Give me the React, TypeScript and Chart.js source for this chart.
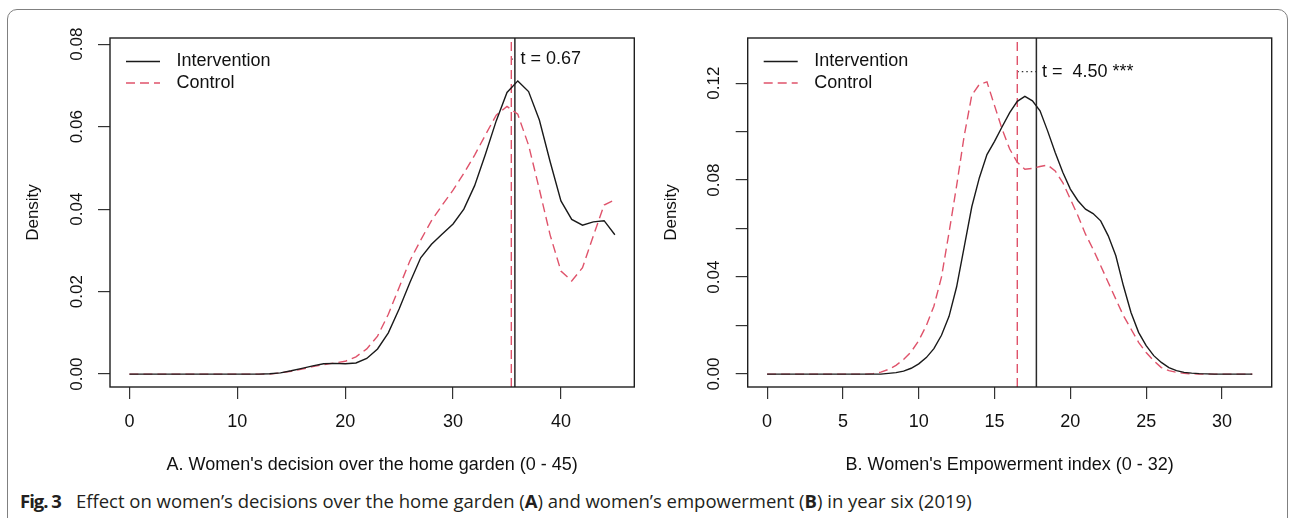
import React, { useEffect, useRef } from 'react';
import { Chart, registerables } from 'chart.js';

Chart.register(...registerables);

const FONT = '"Liberation Sans", Arial, Helvetica, sans-serif';
const RED = '#DF536B';

// ---------- Panel A: Women's decision over the home garden ----------
const aX = [0, 1, 2, 3, 4, 5, 6, 7, 8, 9, 10, 11, 12, 13, 14, 15, 16, 17, 18, 19, 20, 21, 22, 23, 24, 25, 26, 27, 28, 29, 30, 31, 32, 33, 34, 35, 36, 37, 38, 39, 40, 41, 42, 43, 44, 45];
const aIntervention = [0, 0, 0, 0, 0, 0, 0, 0, 0, 0, 0, 0, 0, 0.0001, 0.0003, 0.0008, 0.0014, 0.002, 0.0025, 0.0026, 0.0025, 0.0027, 0.0038, 0.0061, 0.01, 0.0158, 0.0222, 0.0282, 0.0315, 0.034, 0.0364, 0.04, 0.0457, 0.0533, 0.0614, 0.0683, 0.0711, 0.0685, 0.0616, 0.0515, 0.042, 0.0375, 0.0361, 0.0369, 0.0372, 0.0338];
const aControl = [0, 0, 0, 0, 0, 0, 0, 0, 0, 0, 0, 0, 0, 0, 0.0003, 0.0007, 0.0012, 0.0018, 0.0023, 0.0027, 0.0031, 0.0042, 0.0061, 0.0092, 0.0145, 0.021, 0.0275, 0.0325, 0.0372, 0.041, 0.0446, 0.0487, 0.0531, 0.058, 0.0628, 0.0649, 0.063, 0.0555, 0.0448, 0.0337, 0.025, 0.0226, 0.0258, 0.0335, 0.041, 0.0423];
const aXTicks = [0, 10, 20, 30, 40];
const aYTicks = [0, 0.02, 0.04, 0.06, 0.08];
const aYLabels = [0, 0.02, 0.04, 0.06, 0.08];
const aMeanIntervention = 35.73;
const aMeanControl = 35.4;
const aTLabel = 't = 0.67';
const aTY = 0.0764;
const aXTitle = "A. Women's decision over the home garden (0 - 45)";

// ---------- Panel B: Women's Empowerment index ----------
const bX = [0, 0.5, 1, 1.5, 2, 2.5, 3, 3.5, 4, 4.5, 5, 5.5, 6, 6.5, 7, 7.5, 8, 8.5, 9, 9.5, 10, 10.5, 11, 11.5, 12, 12.5, 13, 13.5, 14, 14.5, 15, 15.5, 16, 16.5, 17, 17.5, 18, 18.5, 19, 19.5, 20, 20.5, 21, 21.5, 22, 22.5, 23, 23.5, 24, 24.5, 25, 25.5, 26, 26.5, 27, 27.5, 28, 28.5, 29, 29.5, 30, 30.5, 31, 31.5, 32];
const bIntervention = [0, 0, 0, 0, 0, 0, 0, 0, 0, 0, 0, 0, 0, 0, 0, 0, 0.0003, 0.0006, 0.0012, 0.0024, 0.0042, 0.0068, 0.0105, 0.016, 0.0238, 0.036, 0.0525, 0.069, 0.081, 0.0905, 0.096, 0.102, 0.1078, 0.1125, 0.1145, 0.1127, 0.1086, 0.1003, 0.0914, 0.0832, 0.0763, 0.0715, 0.068, 0.0662, 0.0632, 0.057, 0.0488, 0.0364, 0.0254, 0.0172, 0.0117, 0.0076, 0.0048, 0.0027, 0.0014, 0.0007, 0.0004, 0.0002, 0.0001, 0, 0, 0, 0, 0, 0];
const bControl = [0, 0, 0, 0, 0, 0, 0, 0, 0, 0, 0, 0, 0, 0, 0.0002, 0.0008, 0.0019, 0.0036, 0.006, 0.0092, 0.0138, 0.02, 0.028, 0.04, 0.0584, 0.0777, 0.0983, 0.115, 0.1195, 0.1205, 0.1107, 0.101, 0.0928, 0.0873, 0.0845, 0.0848, 0.0856, 0.0862, 0.0838, 0.079, 0.0722, 0.0653, 0.0577, 0.0515, 0.0447, 0.0378, 0.0309, 0.0241, 0.0186, 0.0131, 0.0089, 0.0055, 0.0027, 0.0014, 0.0007, 0.0003, 0.0001, 0, 0, 0, 0, 0, 0, 0, 0];
const bXTicks = [0, 5, 10, 15, 20, 25, 30];
const bYTicks = [0, 0.02, 0.04, 0.06, 0.08, 0.1, 0.12];
const bYLabels = [0, 0.04, 0.08, 0.12];
const bMeanIntervention = 17.76;
const bMeanControl = 16.5;
const bTLabel = 't =  4.50 ***';
const bTY = 0.1247;
const bXTitle = "B. Women's Empowerment index (0 - 32)";

const legendLabels = ['Intervention', 'Control'];
const yTitle = 'Density';

const captionLabel = 'Fig. 3';
const captionParts = [
  { t: 'Effect on women\u2019s decisions over the home garden (', b: false },
  { t: 'A', b: true },
  { t: ') and women\u2019s empowerment (', b: false },
  { t: 'B', b: true },
  { t: ') in year six (2019)', b: false },
];

type Spec = {
  xs: number[];
  inter: number[];
  ctrl: number[];
  xMin: number;
  xMax: number;
  yMin: number;
  yMax: number;
  xTicks: number[];
  yTicks: number[];
  yLabels: number[];
  mInter: number;
  mCtrl: number;
  tLabel: string;
  tY: number;
  xTitle: string;
  yAxisWidth: number;
  padRight: number;
  yTitlePad: number;
};

const specA: Spec = {
  xs: aX, inter: aIntervention, ctrl: aControl,
  xMin: -1.8, xMax: 46.8, yMin: -0.00313, yMax: 0.0815,
  xTicks: aXTicks, yTicks: aYTicks, yLabels: aYLabels,
  mInter: aMeanIntervention, mCtrl: aMeanControl, tLabel: aTLabel, tY: aTY, xTitle: aXTitle,
  yAxisWidth: 110, padRight: 5.7, yTitlePad: 22.8,
};

const specB: Spec = {
  xs: bX, inter: bIntervention, ctrl: bControl,
  xMin: -1.28, xMax: 33.28, yMin: -0.00533, yMax: 0.1386,
  xTicks: bXTicks, yTicks: bYTicks, yLabels: bYLabels,
  mInter: bMeanIntervention, mCtrl: bMeanControl, tLabel: bTLabel, tY: bTY, xTitle: bXTitle,
  yAxisWidth: 107.7, padRight: 20.3, yTitlePad: 20.8,
};

function decor(spec: Spec) {
  return {
    id: 'decor',
    afterDatasetsDraw(chart: any) {
      const { ctx, chartArea: a } = chart;
      const xs = chart.scales.x;
      const ys = chart.scales.y;
      ctx.save();
      // box
      ctx.setLineDash([]);
      ctx.strokeStyle = '#1e1e1e';
      ctx.lineWidth = 1.4;
      ctx.strokeRect(a.left, a.top, a.right - a.left, a.bottom - a.top);
      // rotated y tick labels
      ctx.fillStyle = '#111';
      ctx.font = `17px ${FONT}`;
      ctx.textAlign = 'center';
      ctx.textBaseline = 'middle';
      spec.yLabels.forEach((v) => {
        ctx.save();
        ctx.translate(a.left - 33, ys.getPixelForValue(v));
        ctx.rotate(-Math.PI / 2);
        ctx.fillText(v.toFixed(2), 0, 0);
        ctx.restore();
      });
      // legend
      const ly = [a.top + 23.5, a.top + 45];
      ctx.lineWidth = 1.4;
      ctx.strokeStyle = '#1a1a1a';
      ctx.beginPath();
      ctx.moveTo(a.left + 16, ly[0]);
      ctx.lineTo(a.left + 50, ly[0]);
      ctx.stroke();
      ctx.strokeStyle = RED;
      ctx.setLineDash([9, 5]);
      ctx.beginPath();
      ctx.moveTo(a.left + 16, ly[1]);
      ctx.lineTo(a.left + 50, ly[1]);
      ctx.stroke();
      ctx.setLineDash([]);
      ctx.font = `18px ${FONT}`;
      ctx.textAlign = 'left';
      ctx.fillStyle = '#111';
      ctx.fillText(legendLabels[0], a.left + 66.5, ly[0]);
      ctx.fillText(legendLabels[1], a.left + 66.5, ly[1]);
      // t annotation
      ctx.fillText(spec.tLabel, xs.getPixelForValue(spec.mInter) + 5.5, ys.getPixelForValue(spec.tY));
      ctx.restore();
    },
  };
}

function Panel({ spec, left, width }: { spec: Spec; left: number; width: number }) {
  const ref = useRef<HTMLCanvasElement>(null);
  useEffect(() => {
    const canvas = ref.current;
    if (!canvas) return;
    const pts = (xs: number[], ys: number[]) => xs.map((x, i) => ({ x, y: ys[i] }));
    const chart = new Chart(canvas, {
      type: 'line',
      data: {
        datasets: [
          { label: legendLabels[0], data: pts(spec.xs, spec.inter), borderColor: '#1a1a1a', borderWidth: 1.4, pointRadius: 0, tension: 0, fill: false },
          { label: legendLabels[1], data: pts(spec.xs, spec.ctrl), borderColor: RED, borderWidth: 1.4, borderDash: [9, 5], pointRadius: 0, tension: 0, fill: false },
          { label: 'mean control', data: [{ x: spec.mCtrl, y: spec.yMin }, { x: spec.mCtrl, y: spec.yMax }], borderColor: RED, borderWidth: 1.4, borderDash: [9, 5], pointRadius: 0, fill: false },
          { label: 'mean intervention', data: [{ x: spec.mInter, y: spec.yMin }, { x: spec.mInter, y: spec.yMax }], borderColor: '#2a2a2a', borderWidth: 1.5, pointRadius: 0, fill: false },
          { label: 't segment', data: [{ x: spec.mCtrl, y: spec.tY }, { x: spec.mInter, y: spec.tY }], borderColor: '#333', borderWidth: 1.2, borderDash: [1.5, 3], pointRadius: 0, fill: false },
        ],
      } as any,
      options: {
        responsive: false,
        animation: false,
        layout: { padding: { top: 38, right: spec.padRight, left: 0, bottom: 0 } },
        plugins: { legend: { display: false }, tooltip: { enabled: false } },
        scales: {
          x: {
            type: 'linear',
            min: spec.xMin,
            max: spec.xMax,
            afterBuildTicks: (s: any) => { s.ticks = spec.xTicks.map((v) => ({ value: v })); },
            afterFit: (s: any) => { s.height = 93; },
            ticks: { font: { family: FONT, size: 18 }, color: '#111', padding: 12, maxRotation: 0, autoSkip: false },
            grid: { drawOnChartArea: false, drawTicks: true, tickLength: 12, color: '#333', lineWidth: 1.2 },
            border: { display: false },
            title: { display: true, text: spec.xTitle, font: { family: FONT, size: 18 }, color: '#111', padding: { top: 0, bottom: 4 } },
          },
          y: {
            type: 'linear',
            min: spec.yMin,
            max: spec.yMax,
            afterBuildTicks: (s: any) => { s.ticks = spec.yTicks.map((v) => ({ value: v })); },
            afterFit: (s: any) => { s.width = spec.yAxisWidth; },
            ticks: { color: 'rgba(0,0,0,0)', font: { family: FONT, size: 15 }, autoSkip: false, callback: (v: any) => Number(v).toFixed(2) },
            grid: { drawOnChartArea: false, drawTicks: true, tickLength: 12, color: '#333', lineWidth: 1.2 },
            border: { display: false },
            title: { display: true, text: yTitle, font: { family: FONT, size: 17 }, color: '#111', padding: { top: spec.yTitlePad, bottom: 0 } },
          },
        },
      } as any,
      plugins: [decor(spec)],
    });
    return () => chart.destroy();
  }, [spec]);
  return (
    <canvas
      ref={ref}
      width={width}
      height={480}
      style={{ position: 'absolute', left, top: 0, width, height: 480 }}
    />
  );
}

export default function App() {
  return (
    <div style={{ position: 'absolute', left: 0, top: 0, width: 1292, height: 518, overflow: 'hidden', background: '#fff' }}>
      <div style={{ position: 'absolute', left: 7, top: 9, width: 1281, height: 560, border: '1px solid #808080', borderRadius: 10, boxSizing: 'border-box' }} />
      <Panel spec={specA} left={0} width={640} />
      <Panel spec={specB} left={640} width={652} />
      <div style={{ position: 'absolute', left: 20, top: 491, fontFamily: '"Open Sans", sans-serif', fontSize: 18.5, lineHeight: '20px', color: '#231f20', whiteSpace: 'nowrap' }}>
        <span style={{ fontWeight: 700, letterSpacing: '-1px' }}>{captionLabel}</span>
        <span style={{ marginLeft: 15 }}>
          {captionParts.map((p, i) => (
            <span key={i} style={{ fontWeight: p.b ? 700 : 400 }}>{p.t}</span>
          ))}
        </span>
      </div>
    </div>
  );
}
